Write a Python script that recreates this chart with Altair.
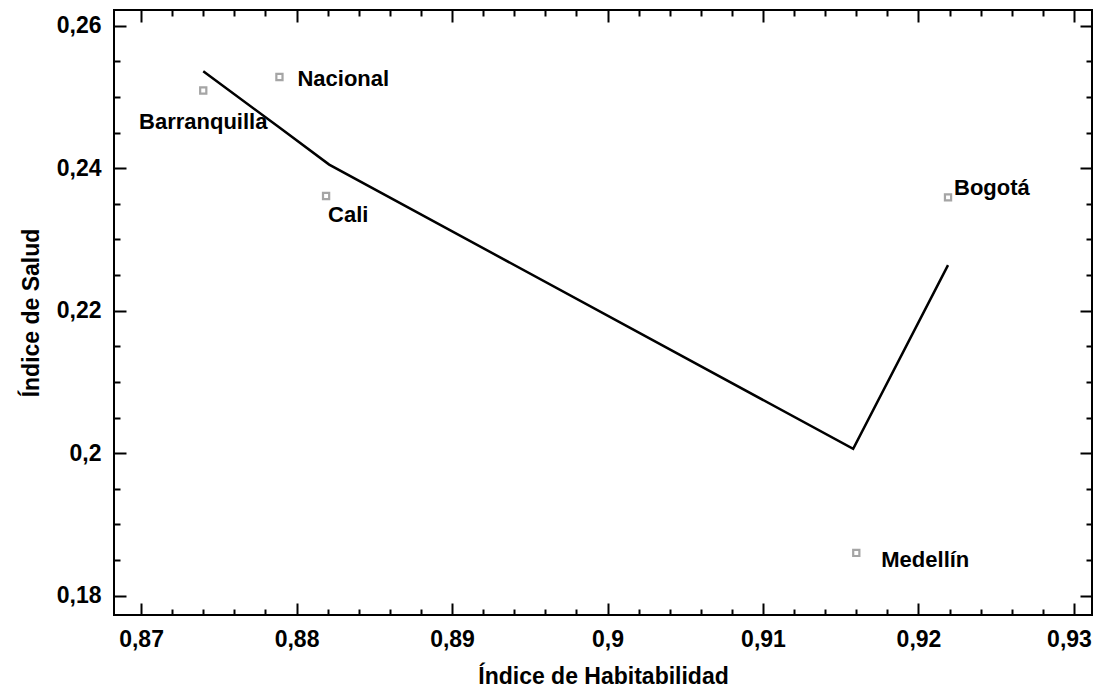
import altair as alt
import pandas as pd

# ---- data ----
cities = ["Barranquilla", "Nacional", "Cali", "Medellín", "Bogotá"]
habitabilidad = [0.8740, 0.8789, 0.8819, 0.9160, 0.9219]
salud = [0.2509, 0.2528, 0.2361, 0.1860, 0.2359]

fit_x = [0.8740, 0.8789, 0.8821, 0.9158, 0.9219]
fit_y = [0.2536, 0.2457, 0.2405, 0.2006, 0.2264]

x_major = [0.87, 0.88, 0.89, 0.9, 0.91, 0.92, 0.93]
x_minor = [0.872, 0.874, 0.876, 0.878, 0.882, 0.884, 0.886, 0.888,
           0.892, 0.894, 0.896, 0.898, 0.902, 0.904, 0.906, 0.908,
           0.912, 0.914, 0.916, 0.918, 0.922, 0.924, 0.926, 0.928]
y_major = [0.18, 0.2, 0.22, 0.24, 0.26]
y_minor = [0.185, 0.19, 0.195, 0.205, 0.21, 0.215, 0.225, 0.23, 0.235,
           0.245, 0.25, 0.255]

x_title = "Índice de Habitabilidad"
y_title = "Índice de Salud"

pts = pd.DataFrame({"ciudad": cities, "hab": habitabilidad, "salud": salud})
fit = pd.DataFrame({"hab": fit_x, "salud": fit_y})

# ---- styling ----
X_DOMAIN = [0.86826, 0.93116]
Y_DOMAIN = [0.17729, 0.26220]
FONT = "Liberation Sans"
LBL = "replace(toString(datum.value), '.', ',')"

xscale = alt.Scale(domain=X_DOMAIN, nice=False, zero=False)
yscale = alt.Scale(domain=Y_DOMAIN, nice=False, zero=False)


def tick_axis(orient, values, size):
    return alt.Axis(orient=orient, values=values, tickSize=size, offset=-size,
                    tickWidth=2, tickColor="black", domain=False, grid=False,
                    labels=False, title=None)


def label_axis(orient, values, size, title, pad, tpad, label_offset=0):
    return alt.Axis(orient=orient, values=values, tickSize=size, offset=-size,
                    tickWidth=2, tickColor="black", domain=False, grid=False,
                    labelExpr=LBL, labelFont=FONT, labelFontSize=23,
                    labelFontWeight="bold", labelColor="black",
                    labelPadding=pad, labelFlush=False, labelOverlap=False,
                    labelOffset=label_offset,
                    title=title, titleFont=FONT, titleFontSize=23,
                    titleFontWeight="bold", titleColor="black",
                    titlePadding=tpad)


last_label_shift = {"condition": {"test": "datum.value >= 0.93", "value": -5},
                    "value": 0}

line = alt.Chart(fit).mark_line(color="black", strokeWidth=2.5).encode(
    x=alt.X("hab:Q", scale=xscale,
            axis=label_axis("bottom", x_major, 12, x_title, 13, 14,
                            last_label_shift)),
    y=alt.Y("salud:Q", scale=yscale,
            axis=label_axis("left", y_major, 12, y_title, 13, 13)),
    order="hab:Q",
)

points = alt.Chart(pts).mark_square(
    filled=False, color="#7f7f7f", size=38, strokeWidth=2.2
).encode(
    x=alt.X("hab:Q", scale=xscale, axis=tick_axis("top", x_major, 12)),
    y=alt.Y("salud:Q", scale=yscale, axis=tick_axis("right", y_major, 12)),
)

label_style = {
    "Barranquilla": ("center", 0, 31),
    "Nacional": ("left", 18, 2),
    "Cali": ("left", 2, 19),
    "Bogotá": ("left", 6, -9),
    "Medellín": ("left", 25, 7),
}

text_layers = []
for i, name in enumerate(cities):
    align, dx, dy = label_style[name]
    if i == 0:
        xa, ya = tick_axis("bottom", x_minor, 6), tick_axis("left", y_minor, 6)
    elif i == 1:
        xa, ya = tick_axis("top", x_minor, 6), tick_axis("right", y_minor, 6)
    else:
        xa, ya = None, None
    xenc = alt.X("hab:Q", scale=xscale, axis=xa)
    yenc = alt.Y("salud:Q", scale=yscale, axis=ya)
    t = alt.Chart(pts).transform_filter(
        alt.datum.ciudad == name
    ).mark_text(
        align=align, baseline="middle", dx=dx, dy=dy, font=FONT,
        fontSize=22, fontWeight="bold", color="black"
    ).encode(x=xenc, y=yenc, text="ciudad:N")
    text_layers.append(t)

chart = alt.layer(line, points, *text_layers).resolve_axis(
    x="independent", y="independent"
).properties(
    width=978, height=605,
    autosize=alt.AutoSizeParams(type="none"),
    padding={"left": 106, "top": 2, "right": 1, "bottom": 72},
    background="white",
).configure_view(stroke="black", strokeWidth=2)

chart.save("out.html", embed_options={"renderer": "svg", "actions": False})
